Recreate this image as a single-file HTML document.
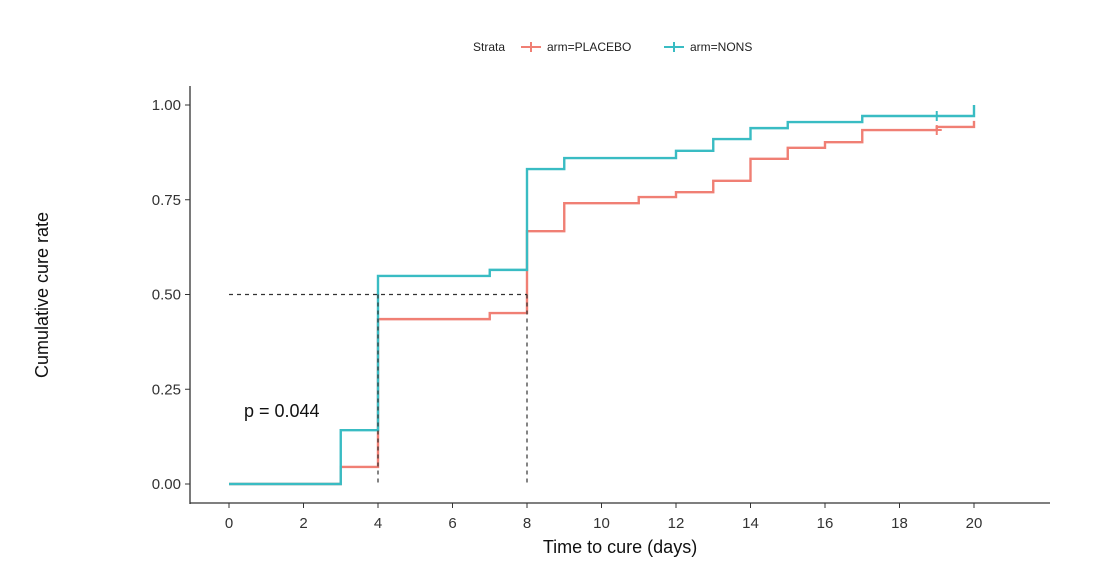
<!DOCTYPE html>
<html><head><meta charset="utf-8"><style>
body{margin:0;background:#fff;}
svg text{font-family:"Liberation Sans",sans-serif;}
</style></head><body>
<svg id="chart" width="1094" height="564" xmlns="http://www.w3.org/2000/svg">
<g id="legend">
<text x="473" y="51" font-size="12" fill="#222">Strata</text>
<g>
<line x1="521" y1="47" x2="541" y2="47" stroke="#F07F74" stroke-width="2"/><line x1="531" y1="42" x2="531" y2="52" stroke="#F07F74" stroke-width="2"/>
<text x="547" y="51" font-size="12" fill="#222">arm=PLACEBO</text></g>
<g>
<line x1="664" y1="47" x2="684" y2="47" stroke="#39BCC3" stroke-width="2"/><line x1="674" y1="42" x2="674" y2="52" stroke="#39BCC3" stroke-width="2"/>
<text x="690" y="51" font-size="12" fill="#222">arm=NONS</text></g>
</g>
<g id="axes"></g>
<g id="marks"></g>
<text x="244" y="417" font-size="18" fill="#111">p = 0.044</text>
<text x="620" y="553" font-size="18" text-anchor="middle" fill="#111">Time to cure (days)</text>
<text transform="translate(48,295) rotate(-90)" font-size="18" text-anchor="middle" fill="#111">Cumulative cure rate</text>
</svg>
<script>
const xTicks=[0,2,4,6,8,10,12,14,16,18,20];
const yTicks=[0,0.25,0.5,0.75,1.0];
const yTickLabels=["0.00","0.25","0.50","0.75","1.00"];
const nonsTimes=[0,3,4,7,8,9,12,13,14,15,17,20];
const nonsValues=[0,0.142,0.549,0.565,0.831,0.86,0.879,0.91,0.939,0.955,0.971,1.0];
const placeboTimes=[0,3,4,7,8,9,11,12,13,14,15,16,17,19,20];
const placeboValues=[0,0.045,0.435,0.451,0.667,0.741,0.757,0.77,0.80,0.858,0.887,0.902,0.934,0.942,0.958];
const nonsCensor=[[19,0.971]];
const placeboCensor=[[19,0.934]];
const medianTimes=[4,8];
const medianLevel=0.5;
const NS="http://www.w3.org/2000/svg";
const X=t=>229+t*(974-229)/20;
const Y=v=>484-v*379;
function mk(tag,attrs,parent){const e=document.createElementNS(NS,tag);for(const k in attrs)e.setAttribute(k,attrs[k]);parent.appendChild(e);return e;}
const axes=document.getElementById('axes'),marks=document.getElementById('marks');
let a=mk('line',{x1:190,y1:86,x2:190,y2:504,stroke:'#333','stroke-width':1.3},axes);


a=mk('line',{x1:190,y1:503,x2:1050,y2:503,stroke:'#333','stroke-width':1.3},axes);


xTicks.forEach(t=>{const tk=mk('line',{x1:X(t),y1:503,x2:X(t),y2:508,stroke:'#333'},axes);


const tx=mk('text',{x:X(t),y:528,'font-size':15,'text-anchor':'middle',fill:'#333'},axes);tx.textContent=t;

});
yTicks.forEach((v,i)=>{const tk=mk('line',{x1:185,y1:Y(v),x2:190,y2:Y(v),stroke:'#333'},axes);


const tx=mk('text',{x:181,y:Y(v)+5,'font-size':15,'text-anchor':'end',fill:'#333'},axes);tx.textContent=yTickLabels[i];

});
function step(times,vals,color,name){let p='M'+X(times[0])+','+Y(vals[0]);
for(let i=1;i<times.length;i++){p+=' H'+X(times[i])+' V'+Y(vals[i]);}
const e=mk('path',{d:p,fill:'none',stroke:color,'stroke-width':2.4},marks);

}
step(placeboTimes,placeboValues,'#F07F74','placebo-curve');
step(nonsTimes,nonsValues,'#39BCC3','nons-curve');
const mx=Math.max(...medianTimes);
let d=mk('line',{x1:X(0),y1:Y(medianLevel),x2:X(mx),y2:Y(medianLevel),stroke:'#333','stroke-dasharray':'4,4','stroke-width':1.2},marks);


medianTimes.forEach(t=>{const l=mk('line',{x1:X(t),y1:Y(medianLevel),x2:X(t),y2:Y(0),stroke:'#333','stroke-dasharray':'4,4','stroke-width':1.2},marks);

});
function cens(arr,color,name){arr.forEach(([t,v])=>{const g=mk('g',{},marks);


mk('line',{x1:X(t)-5,y1:Y(v),x2:X(t)+5,y2:Y(v),stroke:color,'stroke-width':2},g);
mk('line',{x1:X(t),y1:Y(v)-5,x2:X(t),y2:Y(v)+5,stroke:color,'stroke-width':2},g);});}
cens(placeboCensor,'#F07F74','placebo-censor-mark');
cens(nonsCensor,'#39BCC3','nons-censor-mark');
</script>
</body></html>
